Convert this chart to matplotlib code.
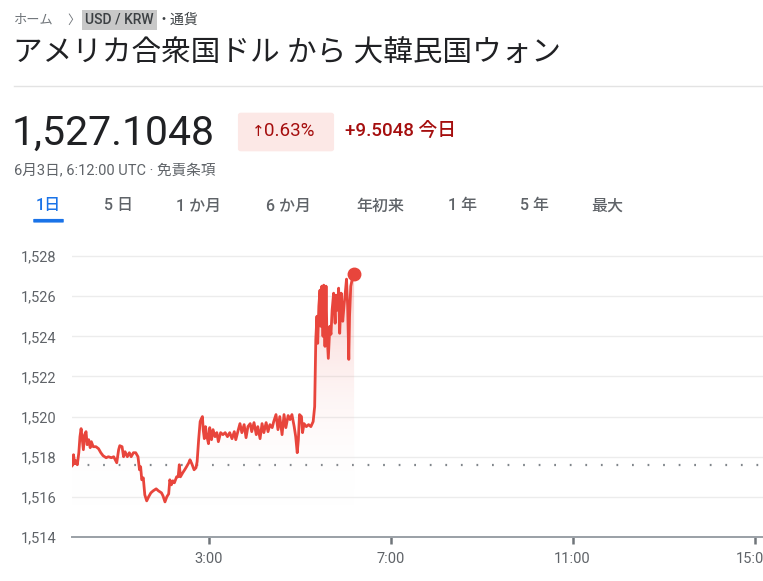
import matplotlib
matplotlib.use("Agg")
import matplotlib.pyplot as plt
from matplotlib.patches import FancyBboxPatch
from matplotlib.ticker import FuncFormatter
import numpy as np

# minutes after 0:00 UTC and USD/KRW rate
minutes = [0, 1, 2, 3.5, 5, 7, 9, 10.5, 12, 13.6, 15, 16.7, 18.5, 20, 22, 24, 25.5, 28, 31.6, 35,
           38, 41, 45, 48, 52, 55, 59, 61.5, 63, 66, 68, 70, 73, 75.6, 78, 81, 84, 87, 89, 90.5,
           92, 94, 96, 98.5, 101, 104, 107, 111, 114, 118, 120, 122.6, 125, 127.5, 129, 131, 133, 135, 138, 140,
           141.5, 143, 146, 148.6, 151, 154, 155.6, 158, 161, 163.5, 165, 167, 169, 170.6, 172, 173, 174.5, 176, 178, 180,
           181.6, 184, 186, 188.6, 191, 193, 196, 199, 202, 205, 208, 211, 214, 216, 219, 221.5, 224, 227, 229.5, 232,
           235, 237, 240, 243, 245, 248, 250.6, 253, 256, 258.5, 261, 264, 266, 269, 271.6, 274, 277, 279.6, 282, 285,
           287.5, 290, 293, 295, 297, 298.5, 300, 302.6, 304, 306, 309, 312, 315, 318, 320, 321.5, 323, 324, 325.5, 327,
           328, 329.5, 331, 332, 333.6, 335, 336, 338, 340, 341.5, 343, 345, 347, 348, 350, 351.6, 353, 355, 357, 359,
           360, 362, 363.5, 365, 366, 367.6, 369, 371, 372]
rates = [1517.55, 1517.6, 1518.1, 1517.65, 1517.8, 1517.6, 1518.2, 1519.0, 1519.4, 1518.85, 1518.35, 1519.1, 1519.25, 1518.6, 1518.85, 1518.45, 1518.75, 1518.5, 1518.5, 1518.4,
         1518.2, 1518.05, 1517.95, 1518.0, 1517.95, 1518.0, 1517.7, 1518.35, 1518.55, 1518.5, 1518.0, 1518.25, 1518.0, 1518.2, 1518.0, 1518.2, 1518.2, 1518.0, 1517.35, 1517.5,
         1516.85, 1516.95, 1516.1, 1515.8, 1516.0, 1516.2, 1516.3, 1516.4, 1516.3, 1516.2, 1516.05, 1515.75, 1516.0, 1516.15, 1516.85, 1516.6, 1516.8, 1516.7, 1517.0, 1517.0,
         1517.6, 1517.0, 1517.2, 1517.35, 1517.5, 1517.7, 1517.85, 1517.65, 1517.35, 1517.45, 1517.75, 1518.85, 1519.75, 1519.9, 1520.0, 1519.35, 1518.9, 1519.5, 1519.0, 1518.65,
         1519.45, 1518.85, 1519.35, 1519.0, 1519.2, 1518.75, 1519.2, 1519.1, 1519.2, 1519.0, 1519.2, 1518.9, 1519.25, 1518.85, 1519.3, 1519.65, 1519.2, 1519.6, 1518.95, 1519.5,
         1519.65, 1519.25, 1519.7, 1519.1, 1519.5, 1518.9, 1519.65, 1519.2, 1519.7, 1519.25, 1519.6, 1519.45, 1519.75, 1520.1, 1519.35, 1520.0, 1519.1, 1520.1, 1519.45, 1520.05,
         1519.85, 1520.1, 1519.5, 1519.0, 1518.2, 1518.85, 1520.1, 1520.0, 1519.2, 1519.65, 1519.5, 1519.6, 1519.5, 1519.75, 1520.5, 1523.85, 1525.0, 1523.65, 1525.5, 1526.3,
         1524.5, 1526.5, 1524.0, 1526.55, 1523.5, 1526.5, 1524.35, 1522.9, 1524.5, 1524.1, 1525.3, 1526.15, 1524.65, 1526.05, 1525.3, 1526.4, 1524.15, 1526.15, 1524.75, 1525.65,
         1526.0, 1526.85, 1525.5, 1522.85, 1525.0, 1526.5, 1526.75, 1527.0, 1527.1048]
prev_close = 1517.6
y_ticks = [1514, 1516, 1518, 1520, 1522, 1524, 1526, 1528]
x_ticks = [180, 420, 660, 900]
x_labels = ["3:00", "7:00", "11:00", "15:00"]
tabs = ["1日", "5 日", "1 か月", "6 か月", "年初来", "1 年", "5 年", "最大"]
tab_x = [48, 119, 199, 289, 380, 463, 534, 607]

W, H = 763, 581
RED = "#e8453c"
GREY = "#5f6368"
FONT = ["Roboto", "Noto Sans CJK JP", "DejaVu Sans"]
plt.rcParams["font.family"] = FONT

fig = plt.figure(figsize=(W / 100, H / 100), dpi=100)


def fx(x):
    return x / W


def fy(y):
    return 1 - y / H


# header
fig.text(fx(14), fy(20), "ホーム", fontsize=9.5, color="#70757a", va="center")
fig.text(fx(67), fy(20), "〉", fontsize=9, color="#70757a", va="center")
fig.text(fx(85), fy(20), "USD / KRW", fontsize=10, color="#3c4043", va="center", weight="medium",
         bbox=dict(facecolor="#c8c8c8", edgecolor="none", pad=2.5))
fig.text(fx(156), fy(20), "・通貨", fontsize=10, color="#3c4043", va="center")
fig.text(fx(13), fy(54), "アメリカ合衆国ドル から 大韓民国ウォン", fontsize=21.3, color="#202124", va="center")
fig.lines.append(plt.Line2D([fx(14), fx(763)], [fy(86), fy(86)], transform=fig.transFigure,
                            color="#e3e3e3", lw=1))

fig.text(fx(12), fy(133), "1,527.1048", fontsize=29.5, color="#202124", va="center")
fig.patches.append(FancyBboxPatch((fx(241), fy(149)), fx(90), 34 / H, transform=fig.transFigure,
                                  boxstyle="round,pad=0.004", color="#fce8e6", lw=0))
fig.text(fx(252), fy(132), "↑", fontsize=11, color="#a50e0e", va="center", family="DejaVu Sans")
fig.text(fx(264), fy(131), "0.63%", fontsize=13.5, color="#a50e0e", va="center")
fig.text(fx(345), fy(131), "+9.5048 今日", fontsize=13.5, color="#a50e0e", va="center", weight="medium")
fig.text(fx(14), fy(171), "6月3日, 6:12:00 UTC · 免責条項", fontsize=10.5, color=GREY, va="center")

for i, (t, x) in enumerate(zip(tabs, tab_x)):
    fig.text(fx(x), fy(206), t, fontsize=11.5, ha="center", va="center",
             color="#1a73e8" if i == 0 else GREY, weight="medium")
fig.patches.append(FancyBboxPatch((fx(34), fy(222)), fx(29), 2.5 / H, transform=fig.transFigure,
                                  boxstyle="round,pad=0.001", color="#1a73e8", lw=0))

# chart
x_max = (W - 72) / 45.5 * 60
ax = fig.add_axes([fx(72), fy(537), 1 - fx(72), (537 - 244) / H])

for v in y_ticks[1:]:
    ax.axhline(v, color="#ececec", lw=1, zorder=0)
ax.axhline(prev_close, color="#80868b", lw=1.6, ls=(0, (0.8, 6.2)), zorder=1)

# gradient fill under the line
poly = ax.fill_between(minutes, rates, 1514, color="none", lw=0)
grad = np.linspace(0, 1, 256).reshape(-1, 1) ** 1.1
cmap = matplotlib.colors.LinearSegmentedColormap.from_list("f", [(1, 1, 1, 0), (0.91, 0.27, 0.24, 0.28)])
img = ax.imshow(grad, extent=[0, minutes[-1], 1515.3, 1527.2], origin="lower", aspect="auto",
                cmap=cmap, zorder=1)
img.set_clip_path(poly.get_paths()[0], transform=ax.transData)
ax.set_xlim(0, x_max)
ax.set_ylim(1514, 1528.6)

ax.plot(minutes, rates, color=RED, lw=2.0, zorder=3, solid_joinstyle="round")
ax.plot(minutes[-1], rates[-1], "o", color=RED, ms=9, zorder=4)

for s in ["top", "right", "left"]:
    ax.spines[s].set_visible(False)
ax.spines["bottom"].set_color("#9aa0a6")
ax.spines["bottom"].set_linewidth(1.4)
ax.set_yticks(y_ticks)
ax.yaxis.set_major_formatter(FuncFormatter(lambda v, p: f"{v:,.0f}"))
ax.tick_params(axis="y", length=0, pad=11, labelsize=10.5, labelcolor=GREY)
ax.set_xticks(x_ticks)
ax.set_xticklabels(x_labels)
ax.tick_params(axis="x", length=5, width=1.8, color="#70757a", pad=6, labelsize=10.5, labelcolor=GREY)

fig.savefig("out.png", dpi=100)
